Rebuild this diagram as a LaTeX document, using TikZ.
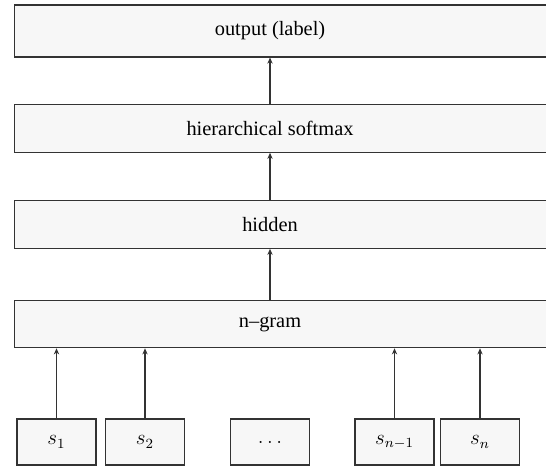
\documentclass[tikz,border=0pt]{standalone}
\usepackage{fontspec}
\setmainfont{Liberation Serif}
\usetikzlibrary{arrows.meta}
\begin{document}
\begin{tikzpicture}[
        x=0.02cm, y=-0.02cm,
        layer/.style={rectangle, draw=black!80, fill=black!3, line width=0.6pt, minimum width=11.04cm, minimum height=0.95cm, inner sep=0pt},
        token/.style={rectangle, draw=black!80, fill=black!3, line width=0.6pt, minimum width=1.58cm, minimum height=0.92cm, inner sep=0pt},
        arr/.style={-{Stealth[length=3.5pt, width=3pt]}, line width=0.6pt, draw=black!80},
        every node/.style={font=\fontsize{11.6}{14}\selectfont}
        ]
      \useasboundingbox (0,0) rectangle (546,466);
      \node[layer, minimum height=1.04cm] (out) at (290,31) {};
      \node (outtxt) at (270,31) {output (label)};
      \node[layer] (hs) at (290,128.5) {};
      \node (hstxt) at (270,128.5) {hierarchical softmax};
      \node[layer] (hid) at (290,224.5) {};
      \node (hidtxt) at (270,224.5) {hidden};
      \node[layer] (ngram) at (290,324) {};
      \node (ngramtxt) at (270,324) {n--gram};

      \node[token] (s1) at (56.5,442) {$s_1$};
      \node[token] (s2) at (145,442) {$s_2$};
      \node[token] (dots) at (270,442) {$\dots$};
      \node[token] (snm) at (394.5,442) {$s_{n-1}$};
      \node[token] (sn) at (480,442) {$s_n$};

      \draw[arr] (hs.north -| outtxt) -- (out.south -| outtxt);
      \draw[arr] (hid.north -| outtxt) -- (hs.south -| outtxt);
      \draw[arr] (ngram.north -| outtxt) -- (hid.south -| outtxt);
      \foreach \s in {s1, s2, snm, sn}
        \draw[arr] (\s.north) -- (ngram.south -| \s);

    \end{tikzpicture}
\end{document}
